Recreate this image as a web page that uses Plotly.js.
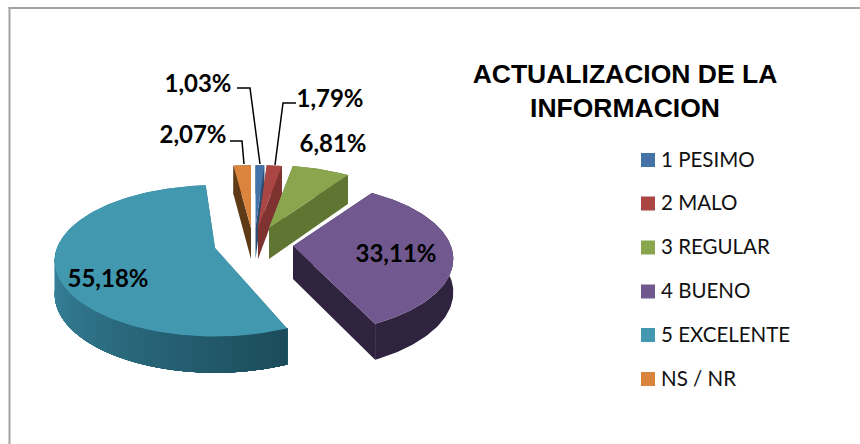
<!DOCTYPE html>
<html><head><meta charset="utf-8">
<script src="https://cdn.plot.ly/plotly-3.0.1.min.js"></script>
<style>html,body{margin:0;padding:0;background:#fff}#c{width:860px;height:444px}</style>
</head><body><div id="c"></div>
<script>
// --- chart data ---
const categories = ['1 PESIMO','2 MALO','3 REGULAR','4 BUENO','5 EXCELENTE','NS / NR'];
const values = [1.03,1.79,6.81,33.11,55.18,2.07];
const title = 'ACTUALIZACION DE LA<br>INFORMACION';
// --- style ---
const topColors = ['#4473A9','#AA4643','#89A54E','#71588F','#4198AF','#DB843D'];
const wallColors = ['#2D4D73','#7E3330','#5F7531','#2F2340','#2A6A7E','#5E3A17'];
const apexX = [255.5,258,269,293,215,251];
const apexY = [228,228,228,246,248,228];
const sliceTurn = [0,0,0,0,3.5,0];
const sliceDepth = [31,31,31,33,33,31];
const labelX = [198,330,333,396,108,193];
const labelY = [86,101,146,256,281,137];
const legendX = 648;
const legendTextX = 661;
const legendY = [160,203.5,247.5,291.5,335,379];
const leaders = {
  0:{x:[237,250,260],y:[88,88,164]},
  1:{x:[296,283,275],y:[103,103,165]},
  5:{x:[230,242,244],y:[141,141,164]}
};
// --- 3D projection of a tilted circle ---
const R=158, TILT=0.465, PERSP=0.17;
function proj(i,deg,drop){
  const a=(deg+sliceTurn[i])*Math.PI/180, X=Math.sin(a), Y=-Math.cos(a), s=1/(1-Y*PERSP);
  return [apexX[i]+R*X*s, apexY[i]+R*TILT*Y*s+(drop?sliceDepth[i]*Math.sqrt(s):0)];
}
function apex(i,drop){return [apexX[i],apexY[i]+(drop?sliceDepth[i]:0)];}
function poly(pts,color){
  return {type:'scatter',mode:'lines',x:pts.map(p=>p[0]),y:pts.map(p=>p[1]),fill:'toself',
    fillcolor:color,line:{width:0},hoverinfo:'skip',showlegend:false};
}
function mix(a,b,t){return 'rgb('+a.map((v,k)=>Math.round(v+(b[k]-v)*t)).join(',')+')';}
function arc(i,s,e,drop){
  const out=[], m=Math.max(2,Math.ceil(e-s));
  for(let k=0;k<=m;k++) out.push(proj(i,s+(e-s)*k/m,drop));
  return out;
}
const total=values.reduce((a,b)=>a+b,0);
let acc=0;
const spans=values.map(v=>{const s=acc/total*360;acc+=v;return [s,acc/total*360];});
const traces=[];
[0,1,5,2,4,3].forEach(i=>{
  const [s,e]=spans[i];
  // radial walls
  traces.push(poly([apex(i,0),proj(i,s,0),proj(i,s,1),apex(i,1)],wallColors[i]));
  traces.push(poly([apex(i,0),proj(i,e,0),proj(i,e,1),apex(i,1)],wallColors[i]));
  // outer wall: one solid face, then shaded overlapping bands for the large slice
  if(i===4){
    traces.push(poly(arc(i,s,e,0).concat(arc(i,s,e,1).reverse()),'#3C8CA6'));
    const bands=48, lastA=272;
    for(let k=bands;k>=0;k--){
      const a=s+(lastA-s)*k/bands;
      traces.push(poly(arc(i,s,a,0).concat(arc(i,s,a,1).reverse()),
        mix([0x1B,0x4B,0x5A],[0x3C,0x8C,0xA6],k/bands)));
    }
  } else {
    traces.push(poly(arc(i,s,e,0).concat(arc(i,s,e,1).reverse()),wallColors[i]));
  }
  // top face
  traces.push(poly([apex(i,0)].concat(arc(i,s,e,0)),topColors[i]));
});
// leader lines
Object.keys(leaders).forEach(k=>traces.push({type:'scatter',mode:'lines',x:leaders[k].x,y:leaders[k].y,
  line:{color:'#000',width:1.5},hoverinfo:'skip',showlegend:false}));
// value labels
traces.push({type:'scatter',mode:'text',x:labelX,y:labelY,
  text:values.map(v=>v.toFixed(2).replace('.',',')+'%'),textposition:'middle center',
  textfont:{family:'Lato, sans-serif',size:24,color:'#000',weight:700},hoverinfo:'skip',showlegend:false});
// legend
traces.push({type:'scatter',mode:'markers',x:legendY.map(()=>legendX),y:legendY,
  marker:{symbol:'square',size:14,color:topColors,line:{width:0}},hoverinfo:'skip',showlegend:false});
traces.push({type:'scatter',mode:'text',x:legendY.map(()=>legendTextX),y:legendY.map(v=>v+1.5),
  text:categories,textposition:'middle right',
  textfont:{family:'Lato, sans-serif',size:20.5,color:'#111'},hoverinfo:'skip',showlegend:false});
const hidden=r=>({range:r,visible:false,fixedrange:true});
const layout={
  width:860,height:444,margin:{l:0,r:0,t:0,b:0},paper_bgcolor:'#fff',plot_bgcolor:'#fff',showlegend:false,
  xaxis:hidden([0,860]),yaxis:hidden([444,0]),
  title:{text:title,x:625/860,xanchor:'center',y:1-83/444,yanchor:'top',
    font:{family:'Liberation Sans, Arial, sans-serif',size:26.5,color:'#000',weight:700}},
  shapes:[
    {type:'line',xref:'paper',yref:'paper',x0:9.5/860,x1:9.5/860,y0:0,y1:1-7/444,line:{color:'#A3A3A3',width:2}},
    {type:'line',xref:'paper',yref:'paper',x0:8.5/860,x1:1,y0:1-8/444,y1:1-8/444,line:{color:'#A3A3A3',width:2}}
  ]
};
Plotly.newPlot('c',traces,layout,{displayModeBar:false,staticPlot:true});
</script></body></html>
